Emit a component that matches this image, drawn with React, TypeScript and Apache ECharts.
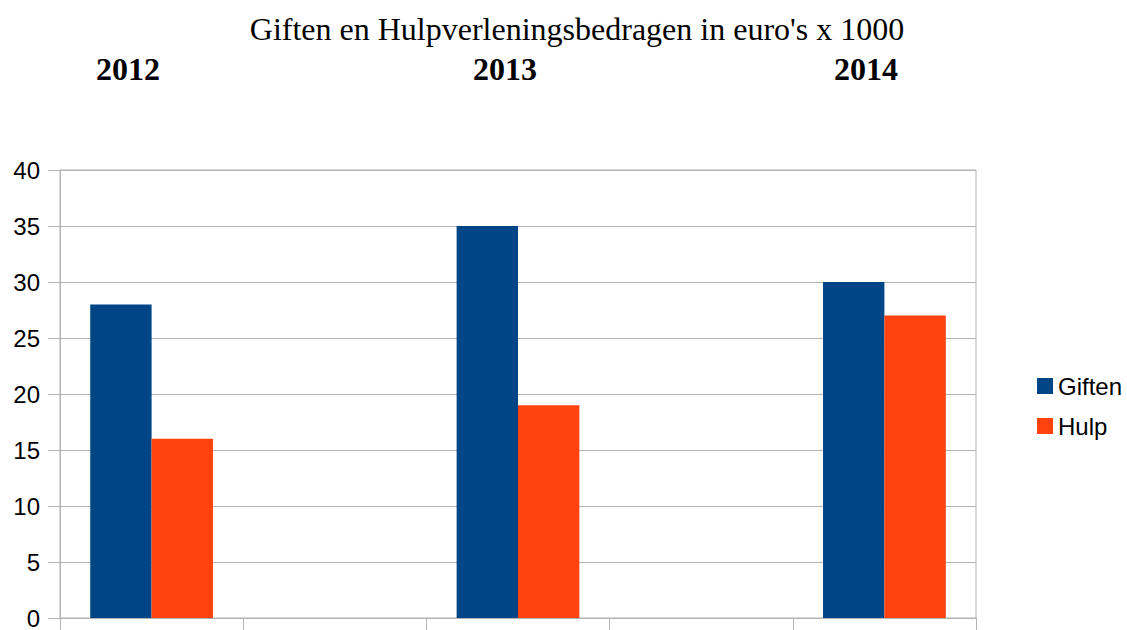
import React, { useEffect, useRef } from "react";
import * as echarts from "echarts";

const categories = ["2012", "", "2013", "", "2014"];
const giften = [28, "-", 35, "-", 30];
const hulp = [16, "-", 19, "-", 27];
const yearLabels = ["2012", "2013", "2014"];
const titleText = "Giften en Hulpverleningsbedragen in euro's x 1000";

export default function App() {
  const ref = useRef<HTMLDivElement>(null);
  useEffect(() => {
    if (!ref.current) return;
    const chart = echarts.init(ref.current, null, { renderer: "svg" });
    const yearX = [128, 505, 866];
    chart.setOption({
      animation: false,
      backgroundColor: "#ffffff",
      graphic: [
        {
          type: "text",
          x: 577,
          y: 29,
          style: {
            text: titleText,
            font: "32px 'Liberation Serif', 'Times New Roman', serif",
            fill: "#000",
            align: "center",
            verticalAlign: "middle",
          },
        },
        ...yearLabels.map((t, i) => ({
          type: "text",
          x: yearX[i],
          y: 69,
          style: {
            text: t,
            font: "bold 32px 'Liberation Serif', 'Times New Roman', serif",
            fill: "#000",
            align: "center",
            verticalAlign: "middle",
          },
        })),
      ],
      legend: {
        orient: "vertical",
        left: 1032,
        top: 369,
        itemWidth: 16,
        itemHeight: 16,
        itemGap: 16,
        icon: "rect",
        textStyle: {
          fontFamily: "'Liberation Sans', Arial, sans-serif",
          fontSize: 24,
          color: "#000",
        },
        data: ["Giften", "Hulp"],
      },
      grid: {
        left: 60,
        width: 916,
        top: 170,
        height: 453,
        show: true,
        borderColor: "#b3b3b3",
        borderWidth: 1,
        containLabel: false,
      },
      xAxis: {
        type: "category",
        data: categories,
        axisLine: { show: true, lineStyle: { color: "#b3b3b3" } },
        axisTick: { show: true, length: 12, lineStyle: { color: "#b3b3b3" } },
        axisLabel: { show: false },
        splitLine: { show: false },
      },
      yAxis: {
        type: "value",
        min: 0,
        max: 40,
        interval: 5,
        axisLine: { show: true, lineStyle: { color: "#b3b3b3" } },
        axisTick: { show: true, length: 12, lineStyle: { color: "#b3b3b3" } },
        splitLine: { show: true, lineStyle: { color: "#b3b3b3" } },
        axisLabel: {
          margin: 20,
          padding: [6, 0, 0, 0],
          fontFamily: "'Liberation Sans', Arial, sans-serif",
          fontSize: 24,
          color: "#000",
        },
      },
      series: [
        {
          name: "Giften",
          type: "bar",
          data: giften,
          itemStyle: { color: "#004586" },
          barGap: "0%",
          barCategoryGap: "33%",
        },
        {
          name: "Hulp",
          type: "bar",
          data: hulp,
          itemStyle: { color: "#ff420e" },
          barGap: "0%",
          barCategoryGap: "33%",
        },
      ],
    });
    return () => chart.dispose();
  }, []);
  return (
    <div
      ref={ref}
      style={{ position: "fixed", left: 0, top: 0, width: 1127, height: 630 }}
    />
  );
}
